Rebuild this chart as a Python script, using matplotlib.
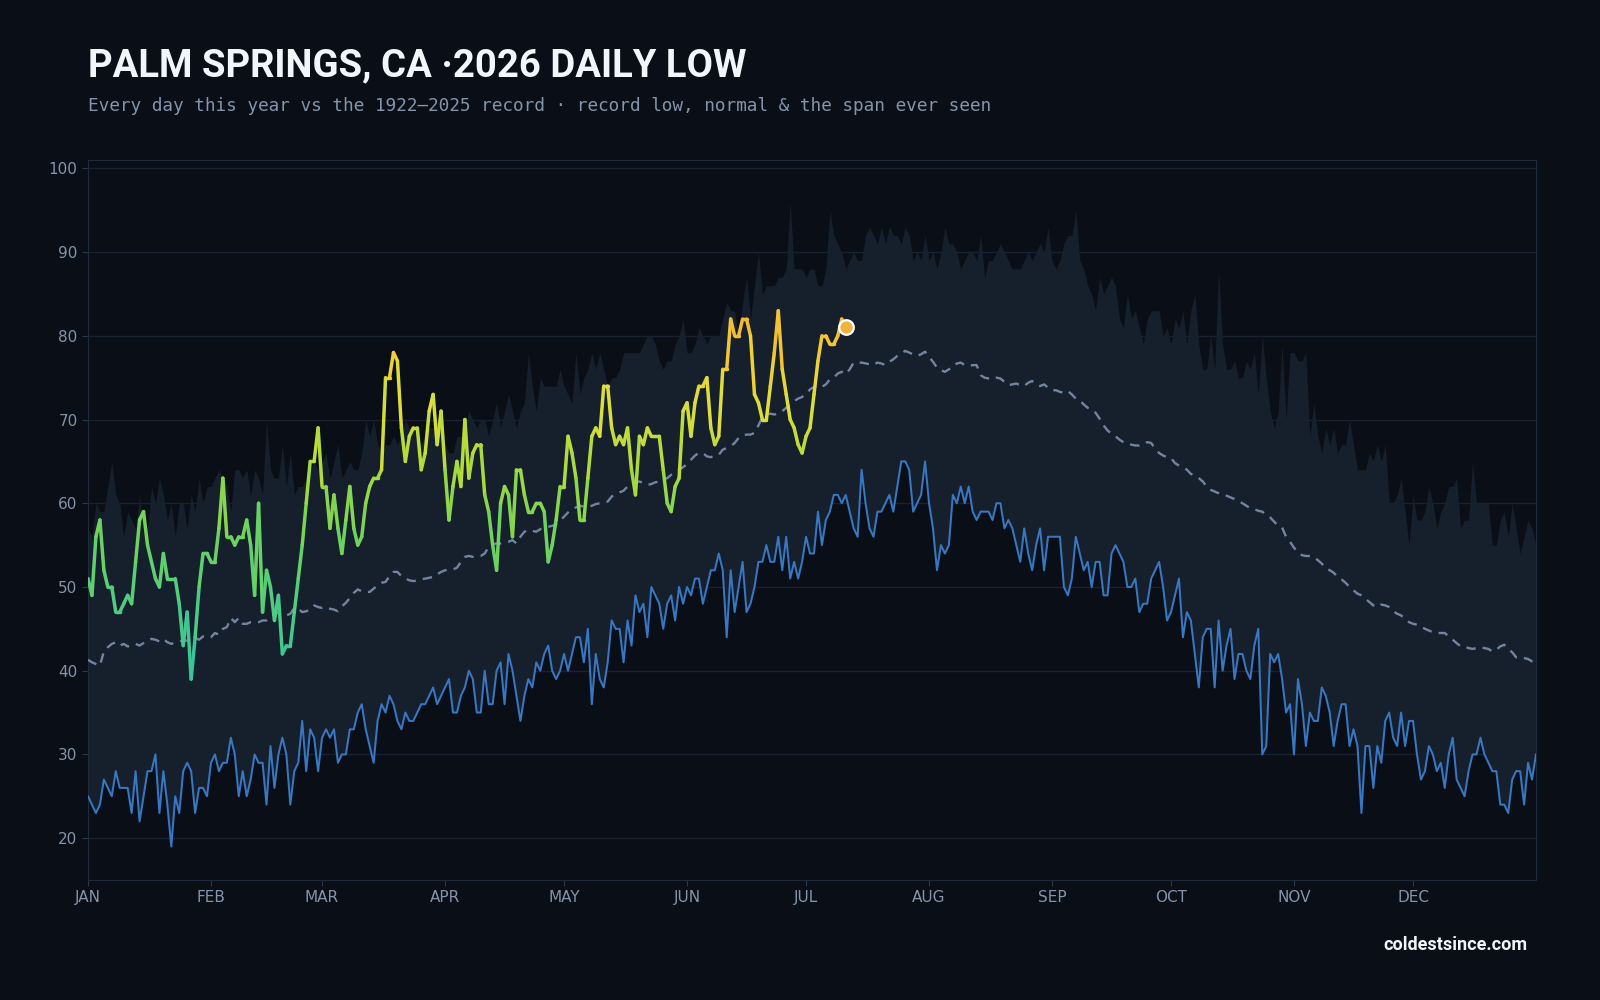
import numpy as np
import matplotlib
matplotlib.use("Agg")
import matplotlib.pyplot as plt
from matplotlib.collections import LineCollection
from matplotlib.colors import LinearSegmentedColormap, Normalize

# ---- data (day index 0 = Jan 1) ----
record_high = [
    57, 56, 60, 59, 59, 62, 65, 61, 60, 56, 59, 58, 57, 61, 57, 57, 62, 60, 63, 61,
    58, 60, 56, 60, 60, 57, 61, 59, 63, 60, 62, 62, 63, 64, 63, 62, 59, 64, 64, 63,
    64, 61, 64, 63, 61, 70, 64, 63, 63, 67, 62, 66, 61, 62, 62, 63, 64, 65, 64, 65,
    66, 63, 65, 67, 63, 64, 65, 64, 64, 66, 70, 68, 70, 67, 66, 67, 67, 68, 67, 68,
    70, 69, 69, 68, 67, 68, 69, 69, 69, 68, 67, 66, 66, 68, 68, 69, 71, 70, 69, 70,
    70, 68, 70, 72, 69, 71, 73, 71, 69, 71, 72, 78, 74, 71, 75, 74, 74, 74, 74, 76,
    74, 73, 72, 78, 73, 75, 76, 78, 76, 78, 76, 74, 75, 75, 76, 78, 78, 78, 78, 78,
    79, 80, 80, 79, 77, 76, 77, 77, 79, 80, 82, 78, 78, 79, 81, 80, 79, 80, 80, 80,
    82, 84, 83, 83, 80, 84, 87, 82, 86, 90, 85, 86, 86, 86, 87, 87, 88, 96, 88, 88,
    88, 87, 88, 88, 86, 86, 88, 95, 92, 91, 90, 88, 89, 90, 89, 89, 92, 93, 92, 91,
    93, 91, 93, 92, 92, 91, 93, 92, 89, 90, 89, 92, 89, 90, 88, 90, 93, 91, 91, 90,
    88, 89, 90, 90, 89, 92, 87, 89, 89, 90, 91, 90, 89, 88, 88, 88, 89, 90, 89, 90,
    91, 90, 93, 89, 88, 89, 91, 92, 92, 95, 89, 88, 86, 85, 83, 87, 85, 86, 87, 86,
    82, 81, 85, 82, 83, 81, 79, 82, 83, 83, 83, 80, 81, 79, 82, 81, 83, 79, 83, 85,
    79, 76, 76, 80, 76, 88, 79, 76, 76, 77, 75, 75, 77, 76, 78, 73, 80, 75, 71, 69,
    71, 79, 70, 78, 78, 77, 77, 78, 68, 72, 68, 66, 69, 67, 69, 66, 67, 67, 70, 67,
    64, 64, 64, 66, 65, 67, 65, 67, 60, 60, 61, 63, 59, 55, 61, 58, 58, 59, 62, 60,
    57, 59, 60, 62, 62, 63, 57, 58, 58, 65, 60, 60, 60, 60, 55, 55, 58, 59, 56, 60,
    57, 54, 56, 58, 57, 55,
]

record_low = [
    25, 24, 23, 24, 27, 26, 25, 28, 26, 26, 26, 23, 28, 22, 25, 28, 28, 30, 23, 28,
    24, 19, 25, 23, 28, 29, 28, 23, 26, 26, 25, 29, 30, 28, 29, 29, 32, 30, 25, 28,
    25, 27, 30, 29, 29, 24, 31, 26, 30, 32, 30, 24, 28, 29, 34, 28, 33, 32, 28, 32,
    33, 32, 33, 29, 30, 30, 33, 33, 35, 36, 33, 31, 29, 34, 36, 35, 37, 36, 34, 33,
    35, 34, 34, 35, 36, 36, 37, 38, 36, 37, 38, 39, 35, 35, 37, 38, 40, 39, 35, 35,
    40, 36, 36, 40, 41, 36, 42, 40, 37, 34, 37, 39, 38, 41, 40, 42, 43, 40, 39, 40,
    42, 40, 42, 44, 44, 41, 45, 36, 42, 39, 38, 41, 46, 45, 45, 41, 46, 43, 49, 47,
    48, 44, 50, 49, 48, 45, 48, 49, 46, 50, 48, 50, 49, 51, 51, 48, 50, 52, 52, 54,
    52, 44, 52, 47, 50, 53, 47, 48, 50, 53, 53, 55, 53, 53, 56, 52, 56, 51, 53, 51,
    53, 56, 54, 54, 59, 55, 58, 59, 61, 61, 60, 61, 59, 57, 56, 64, 60, 57, 56, 59,
    59, 60, 61, 59, 62, 65, 65, 64, 59, 60, 61, 65, 60, 57, 52, 55, 54, 55, 61, 60,
    62, 60, 62, 59, 58, 59, 59, 59, 58, 60, 60, 57, 58, 57, 55, 53, 57, 54, 52, 55,
    57, 52, 56, 56, 56, 56, 50, 49, 51, 56, 54, 52, 53, 50, 53, 53, 49, 49, 54, 55,
    54, 53, 50, 50, 51, 47, 48, 48, 51, 52, 53, 50, 46, 47, 49, 51, 44, 47, 46, 42,
    38, 44, 45, 45, 38, 46, 40, 43, 45, 39, 42, 42, 40, 39, 43, 45, 30, 31, 42, 41,
    42, 39, 35, 36, 30, 39, 36, 31, 35, 34, 34, 38, 37, 35, 31, 34, 36, 36, 31, 33,
    31, 23, 31, 31, 26, 31, 29, 34, 35, 32, 31, 35, 31, 34, 34, 30, 27, 28, 31, 30,
    28, 29, 26, 30, 32, 27, 26, 25, 28, 30, 30, 32, 30, 29, 28, 28, 24, 24, 23, 27,
    28, 28, 24, 29, 27, 30,
]

normal = [
    41.3, 41.0, 40.8, 40.6, 42.3, 42.8, 43.2, 43.4, 43.0, 43.2, 42.9, 43.0, 43.2, 43.0, 43.3,
    43.6, 43.8, 43.7, 43.5, 43.8, 43.4, 43.2, 43.4, 43.5, 43.6, 43.6, 43.8, 43.9, 43.7, 44.1,
    43.9, 44.0, 44.5, 44.3, 45.0, 45.2, 46.3, 45.8, 46.3, 45.6, 45.6, 45.8, 45.8, 45.8, 46.0,
    46.0, 46.5, 46.7, 47.0, 46.8, 46.6, 46.8, 47.5, 47.4, 47.0, 47.1, 47.3, 47.8, 47.6, 47.5,
    47.6, 47.4, 47.3, 47.1, 47.7, 48.1, 48.7, 49.3, 49.7, 49.5, 49.4, 49.4, 49.8, 50.2, 50.5,
    50.6, 51.3, 51.8, 51.8, 51.3, 51.0, 50.8, 50.7, 50.8, 50.9, 51.0, 51.1, 51.2, 51.5, 51.8,
    52.0, 52.0, 52.1, 52.3, 53.0, 53.6, 53.7, 53.6, 53.7, 53.7, 54.0, 54.8, 55.1, 55.2, 55.2,
    55.3, 55.4, 55.6, 55.2, 56.0, 56.6, 56.8, 56.7, 56.6, 56.9, 57.1, 57.2, 57.3, 57.5, 57.9,
    58.4, 58.9, 59.3, 59.5, 59.7, 59.6, 59.6, 59.7, 59.9, 60.0, 60.1, 60.2, 60.8, 61.1, 61.3,
    61.5, 62.0, 62.3, 62.5, 62.6, 62.4, 62.2, 62.3, 62.5, 62.6, 62.8, 63.0, 63.4, 63.7, 64.0,
    64.3, 64.7, 65.2, 65.7, 66.0, 66.0, 65.6, 65.5, 65.7, 65.8, 66.4, 66.6, 66.8, 67.2, 67.8,
    68.1, 68.2, 68.2, 68.4, 69.3, 70.3, 70.6, 70.7, 70.6, 70.7, 71.0, 71.4, 71.8, 72.2, 72.5,
    72.7, 73.0, 73.6, 73.9, 73.7, 73.9, 74.2, 74.8, 75.0, 75.5, 75.7, 75.4, 76.0, 76.8, 76.8,
    76.8, 76.7, 76.6, 76.5, 76.8, 76.7, 76.5, 76.9, 77.2, 77.6, 77.9, 78.2, 78.0, 77.8, 77.6,
    77.8, 78.1, 77.5, 76.9, 76.2, 75.9, 75.7, 76.0, 76.2, 76.7, 76.8, 76.5, 76.4, 76.5, 76.5,
    75.3, 75.0, 74.9, 74.8, 75.0, 74.9, 74.5, 74.1, 74.2, 74.3, 74.1, 74.0, 74.4, 74.6, 74.2,
    74.0, 74.2, 73.8, 73.5, 73.5, 73.3, 73.2, 73.4, 73.0, 72.5, 72.3, 71.8, 71.4, 71.2, 70.8,
    70.1, 69.3, 68.7, 68.3, 68.0, 67.6, 67.3, 67.1, 67.0, 66.9, 66.9, 67.0, 67.3, 67.2, 66.5,
    66.0, 65.7, 65.5, 65.4, 64.8, 64.5, 64.3, 64.0, 63.5, 63.3, 63.0, 62.6, 62.0, 61.6, 61.4,
    61.2, 61.0, 60.9, 60.7, 60.5, 60.3, 60.0, 59.7, 59.4, 59.3, 59.1, 59.0, 58.6, 58.3, 57.8,
    57.3, 57.1, 56.0, 55.4, 54.7, 54.1, 53.8, 53.7, 53.7, 53.6, 53.2, 52.8, 52.2, 52.0, 51.7,
    51.2, 50.9, 50.5, 50.0, 49.6, 49.2, 49.0, 48.6, 48.2, 47.8, 47.6, 47.9, 47.8, 47.6, 47.1,
    46.8, 46.6, 46.2, 45.8, 45.6, 45.5, 45.3, 45.0, 44.8, 44.6, 44.5, 44.5, 44.5, 44.1, 43.7,
    43.3, 42.9, 42.9, 42.7, 42.6, 42.7, 42.8, 42.7, 42.6, 42.3, 42.5, 42.9, 43.1, 42.6, 42.2,
    41.6, 41.6, 41.5, 41.4, 41.1, 40.8,
]

this_year = [
    51, 49, 56, 58, 52, 50, 50, 47, 47, 48, 49, 48, 53, 58, 59, 55, 53, 51, 50, 54,
    51, 51, 51, 48, 43, 47, 39, 44, 50, 54, 54, 53, 53, 57, 63, 56, 56, 55, 56, 56,
    58, 55, 49, 60, 47, 52, 50, 46, 49, 42, 43, 43, 47, 51, 55, 60, 65, 65, 69, 62,
    62, 57, 61, 57, 54, 58, 62, 57, 55, 56, 60, 62, 63, 63, 64, 75, 75, 78, 77, 69,
    65, 68, 69, 69, 64, 66, 71, 73, 67, 71, 64, 58, 62, 65, 62, 70, 63, 66, 67, 67,
    61, 59, 55, 52, 60, 62, 61, 56, 64, 64, 61, 59, 59, 60, 60, 59, 53, 55, 58, 62,
    62, 68, 66, 63, 58, 58, 63, 68, 69, 68, 74, 74, 69, 67, 68, 67, 69, 64, 61, 68,
    67, 69, 68, 68, 68, 64, 60, 59, 62, 63, 71, 72, 68, 72, 74, 74, 75, 69, 67, 68,
    76, 76, 82, 80, 80, 82, 82, 80, 73, 72, 70, 70, 74, 78, 83, 76, 73, 70, 69, 67,
    66, 68, 69, 73, 77, 80, 80, 79, 79, 80, 82, 81,
]

month_starts = [0, 31, 59, 90, 120, 151, 181, 212, 243, 273, 304, 334]
month_labels = ["JAN", "FEB", "MAR", "APR", "MAY", "JUN",
                "JUL", "AUG", "SEP", "OCT", "NOV", "DEC"]

BG = "#0a0e16"
BAND = "#161f2c"
LOW_C = "#3877c2"
NORM_C = "#7185a0"
TICK_C = "#8395ab"

days_clim = np.arange(len(record_high))
days_yr = np.arange(len(this_year))

fig = plt.figure(figsize=(16, 10), dpi=100, facecolor=BG)
ax = fig.add_axes([0.055, 0.12, 0.905, 0.72], facecolor=BG)

# span ever seen
ax.fill_between(days_clim, record_low, record_high, color=BAND, lw=0, zorder=1)
ax.plot(days_clim, record_low, color=LOW_C, lw=1.45, zorder=3)
ax.plot(days_clim, normal, color=NORM_C, lw=1.7, ls=(0, (4, 3)), zorder=3)

# this year, coloured by temperature
cmap = LinearSegmentedColormap.from_list("lows", [
    (0.00, "#2fbfa8"),
    (0.22, "#4fcd80"),
    (0.40, "#72d35a"),
    (0.55, "#a6da3e"),
    (0.72, "#e0de3a"),
    (0.85, "#f2cc36"),
    (1.00, "#f1a83a"),
])
norm = Normalize(38, 85)
pts = np.column_stack([days_yr, this_year]).reshape(-1, 1, 2)
segs = np.concatenate([pts[:-1], pts[1:]], axis=1)
mid = (np.array(this_year[:-1]) + np.array(this_year[1:])) / 2
lc = LineCollection(segs, colors=cmap(norm(mid)), linewidths=2.5,
                    capstyle="round", joinstyle="round", zorder=4)
ax.add_collection(lc)
ax.scatter([days_yr[-1]], [this_year[-1]], s=110, color="#f0b43c",
           edgecolor="white", linewidth=1.6, zorder=5)

ax.set_xlim(0, 365)
ax.set_ylim(15, 101)
ax.set_yticks(range(20, 101, 10))
ax.set_xticks(month_starts)
ax.set_xticklabels(month_labels)
ax.grid(axis="y", color="#182231", lw=1)
ax.set_axisbelow(True)
ax.tick_params(colors="#2a3848", labelcolor=TICK_C, labelsize=11, length=4)
for s in ax.spines.values():
    s.set_color("#1f2b3a")

fig.text(0.055, 0.924, "PALM SPRINGS, CA \u00b72026 DAILY LOW", color="#f2f5f9",
         fontsize=27.5, fontweight="bold", family="Roboto", va="baseline")
fig.text(0.055, 0.889,
         "Every day this year vs the 1922\u20132025 record \u00b7 record low, normal & the span ever seen",
         color="#8395ab", fontsize=12.8, family="DejaVu Sans Mono", va="baseline")
fig.text(0.955, 0.05, "coldestsince.com", color="#f2f5f9", fontsize=13,
         fontweight="bold", family="Roboto", ha="right", va="baseline")

fig.savefig("out.png", dpi=100, facecolor=BG)
